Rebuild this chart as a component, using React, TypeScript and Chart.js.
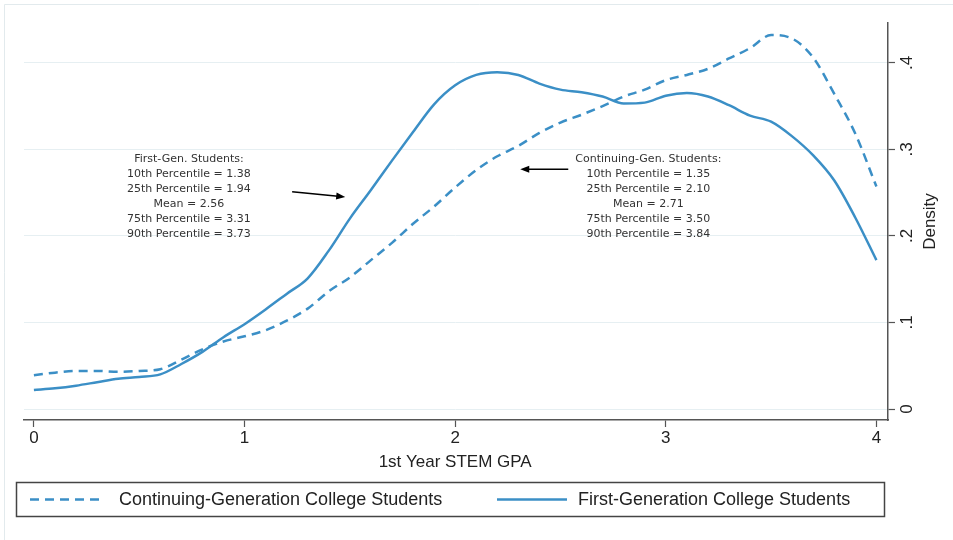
import React, { useEffect, useRef } from "react";
import { Chart, registerables } from "chart.js";

Chart.register(...registerables);

const gpa = [
  0.0, 0.1, 0.2, 0.3, 0.4, 0.5, 0.6, 0.7, 0.8, 0.9,
  1.0, 1.1, 1.2, 1.3, 1.4, 1.5, 1.6, 1.7, 1.8, 1.9,
  2.0, 2.1, 2.2, 2.3, 2.4, 2.5, 2.6, 2.7, 2.8, 2.9,
  3.0, 3.1, 3.2, 3.3, 3.4, 3.5, 3.6, 3.7, 3.8, 3.9, 4.0,
];

const firstGen = [
  0.022, 0.024, 0.027, 0.031, 0.035, 0.037, 0.040, 0.052, 0.066, 0.083,
  0.098, 0.115, 0.133, 0.151, 0.183, 0.220, 0.253, 0.287, 0.320, 0.352,
  0.374, 0.386, 0.389, 0.386, 0.376, 0.369, 0.366, 0.361, 0.353, 0.354,
  0.362, 0.365, 0.361, 0.351, 0.339, 0.332, 0.315, 0.293, 0.264, 0.221, 0.172,
];

const continuingGen = [
  0.039, 0.042, 0.044, 0.044, 0.043, 0.044, 0.046, 0.057, 0.069, 0.078,
  0.084, 0.091, 0.102, 0.116, 0.136, 0.152, 0.172, 0.192, 0.214, 0.234,
  0.256, 0.276, 0.292, 0.304, 0.319, 0.331, 0.340, 0.350, 0.361, 0.369,
  0.380, 0.386, 0.393, 0.405, 0.417, 0.432, 0.428, 0.406, 0.364, 0.318, 0.257,
];

const xTicks = [0, 1, 2, 3, 4];
const yTicks = [0, 0.1, 0.2, 0.3, 0.4];
const yTickLabels = ["0", ".1", ".2", ".3", ".4"];

const seriesNames = [
  "Continuing-Generation College Students",
  "First-Generation College Students",
];

const xTitle = "1st Year STEM GPA";
const yTitle = "Density";

const firstGenNote = [
  "First-Gen. Students:",
  "10th Percentile = 1.38",
  "25th Percentile = 1.94",
  "Mean = 2.56",
  "75th Percentile = 3.31",
  "90th Percentile = 3.73",
];

const contGenNote = [
  "Continuing-Gen. Students:",
  "10th Percentile = 1.35",
  "25th Percentile = 2.10",
  "Mean = 2.71",
  "75th Percentile = 3.50",
  "90th Percentile = 3.84",
];

// annotation anchors in data units (gpa, density)
const firstNoteAnchor = [0.736, 0.289];
const contNoteAnchor = [2.917, 0.289];
const firstArrow = [1.226, 0.251, 1.478, 0.245];
const contArrow = [2.537, 0.277, 2.309, 0.277];

const LINE_COLOR = "#3b8fc6";
const AXIS_COLOR = "#555555";
const GRID_COLOR = "#e6eff2";
const TEXT_COLOR = "#222222";
const SANS = "'Liberation Sans', Arial, Helvetica, sans-serif";

function drawArrow(ctx: CanvasRenderingContext2D, x1: number, y1: number, x2: number, y2: number) {
  const ang = Math.atan2(y2 - y1, x2 - x1);
  const head = 9;
  const hw = 3.5;
  ctx.save();
  ctx.strokeStyle = "#000";
  ctx.fillStyle = "#000";
  ctx.lineWidth = 1.6;
  ctx.beginPath();
  ctx.moveTo(x1, y1);
  ctx.lineTo(x2 - Math.cos(ang) * head * 0.8, y2 - Math.sin(ang) * head * 0.8);
  ctx.stroke();
  ctx.beginPath();
  ctx.moveTo(x2, y2);
  ctx.lineTo(
    x2 - Math.cos(ang) * head + Math.sin(ang) * hw,
    y2 - Math.sin(ang) * head - Math.cos(ang) * hw
  );
  ctx.lineTo(
    x2 - Math.cos(ang) * head - Math.sin(ang) * hw,
    y2 - Math.sin(ang) * head + Math.cos(ang) * hw
  );
  ctx.closePath();
  ctx.fill();
  ctx.restore();
}

const decorPlugin = {
  id: "decor",
  beforeDraw(chart: any) {
    const ctx = chart.ctx as CanvasRenderingContext2D;
    ctx.save();
    ctx.fillStyle = "#ffffff";
    ctx.fillRect(0, 0, chart.width, chart.height);
    ctx.strokeStyle = "#e2eaed";
    ctx.lineWidth = 1;
    ctx.beginPath();
    ctx.moveTo(4.5, chart.height + 5);
    ctx.lineTo(4.5, 4.5);
    ctx.lineTo(chart.width + 5, 4.5);
    ctx.stroke();
    ctx.restore();
  },
  afterDraw(chart: any) {
    const ctx = chart.ctx as CanvasRenderingContext2D;
    const xs = chart.scales.x;
    const ys = chart.scales.y;
    const area = chart.chartArea;
    ctx.save();

    // y tick labels (rotated)
    ctx.fillStyle = TEXT_COLOR;
    ctx.font = `17px ${SANS}`;
    ctx.textAlign = "center";
    ctx.textBaseline = "middle";
    yTicks.forEach((v, i) => {
      const py = ys.getPixelForValue(v);
      ctx.save();
      ctx.translate(area.right + 19, py);
      ctx.rotate(-Math.PI / 2);
      ctx.fillText(yTickLabels[i], 0, 0);
      ctx.restore();
    });

    // y title
    ctx.save();
    ctx.translate(area.right + 42, (area.top + area.bottom) / 2);
    ctx.rotate(-Math.PI / 2);
    ctx.fillText(yTitle, 0, 0);
    ctx.restore();

    // x title
    ctx.fillText(xTitle, (xs.getPixelForValue(0) + xs.getPixelForValue(4)) / 2, area.bottom + 42);

    // notes
    ctx.font = `11px 'DejaVu Sans', Verdana, sans-serif`;
    ctx.fillStyle = "#333333";
    const drawNote = (lines: string[], anchor: number[]) => {
      const cx = xs.getPixelForValue(anchor[0]);
      const cy = ys.getPixelForValue(anchor[1]);
      lines.forEach((t, i) => ctx.fillText(t, cx, cy + i * 15));
    };
    drawNote(firstGenNote, firstNoteAnchor);
    drawNote(contGenNote, contNoteAnchor);

    drawArrow(
      ctx,
      xs.getPixelForValue(firstArrow[0]), ys.getPixelForValue(firstArrow[1]),
      xs.getPixelForValue(firstArrow[2]), ys.getPixelForValue(firstArrow[3])
    );
    drawArrow(
      ctx,
      xs.getPixelForValue(contArrow[0]), ys.getPixelForValue(contArrow[1]),
      xs.getPixelForValue(contArrow[2]), ys.getPixelForValue(contArrow[3])
    );

    // legend
    const lx = 16, ly = 482, lw = 868, lh = 34;
    ctx.strokeStyle = "#444444";
    ctx.lineWidth = 1.5;
    ctx.strokeRect(lx + 0.5, ly + 0.5, lw, lh);
    const my = ly + lh / 2 + 0.5;
    ctx.strokeStyle = LINE_COLOR;
    ctx.lineWidth = 2.5;
    ctx.setLineDash([9, 6]);
    ctx.beginPath();
    ctx.moveTo(30, my);
    ctx.lineTo(102, my);
    ctx.stroke();
    ctx.setLineDash([]);
    ctx.beginPath();
    ctx.moveTo(497, my);
    ctx.lineTo(567, my);
    ctx.stroke();
    ctx.fillStyle = TEXT_COLOR;
    ctx.font = `18px ${SANS}`;
    ctx.textAlign = "left";
    ctx.fillText(seriesNames[0], 119, my + 1);
    ctx.fillText(seriesNames[1], 578, my + 1);

    ctx.restore();
  },
};

export default function App() {
  const canvasRef = useRef<HTMLCanvasElement | null>(null);

  useEffect(() => {
    if (!canvasRef.current) return;
    const chart = new Chart(canvasRef.current, {
      type: "line",
      data: {
        datasets: [
          {
            label: seriesNames[0],
            data: gpa.map((g, i) => ({ x: g, y: continuingGen[i] })),
            borderColor: LINE_COLOR,
            borderWidth: 2.5,
            borderDash: [9, 6],
            pointRadius: 0,
            cubicInterpolationMode: "monotone",
            fill: false,
          },
          {
            label: seriesNames[1],
            data: gpa.map((g, i) => ({ x: g, y: firstGen[i] })),
            borderColor: LINE_COLOR,
            borderWidth: 2.5,
            pointRadius: 0,
            cubicInterpolationMode: "monotone",
            fill: false,
          },
        ],
      },
      options: {
        animation: false,
        responsive: false,
        events: [],
        layout: { padding: { left: 24, top: 23, right: 0, bottom: 0 } },
        plugins: {
          legend: { display: false },
          tooltip: { enabled: false },
        },
        scales: {
          x: {
            type: "linear",
            min: -0.047,
            max: 4.055,
            afterBuildTicks: (s: any) => {
              s.ticks = xTicks.map((v) => ({ value: v }));
            },
            afterFit: (s: any) => {
              s.height = 120;
            },
            grid: {
              drawOnChartArea: false,
              drawTicks: true,
              tickLength: 7,
              tickColor: AXIS_COLOR,
              tickWidth: 1.2,
            },
            border: { display: true, color: AXIS_COLOR, width: 1.5 },
            ticks: {
              color: TEXT_COLOR,
              font: { family: SANS, size: 17 },
              padding: 1,
              maxRotation: 0,
              callback: (v: any) => String(v),
            },
          },
          y: {
            type: "linear",
            position: "right",
            min: -0.0127,
            max: 0.446,
            afterBuildTicks: (s: any) => {
              s.ticks = yTicks.map((v) => ({ value: v }));
            },
            afterFit: (s: any) => {
              s.width = 65;
            },
            grid: {
              color: GRID_COLOR,
              lineWidth: 1,
              drawTicks: true,
              tickLength: 7,
              tickColor: AXIS_COLOR,
              tickWidth: 1.2,
            },
            border: { display: true, color: AXIS_COLOR, width: 1.5 },
            ticks: { display: false },
          },
        },
      },
      plugins: [decorPlugin],
    });
    return () => chart.destroy();
  }, []);

  return (
    <div style={{ position: "absolute", left: 0, top: 0, width: 953, height: 540, background: "#fff" }}>
      <canvas ref={canvasRef} width={953} height={540} style={{ display: "block" }} />
    </div>
  );
}
